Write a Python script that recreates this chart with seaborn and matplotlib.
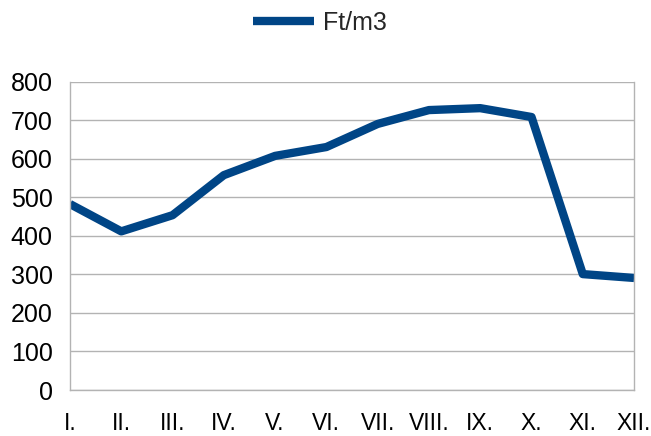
import pandas as pd
import matplotlib.pyplot as plt
import seaborn as sns

# Monthly values
months = ['I.', 'II.', 'III.', 'IV.', 'V.', 'VI.', 'VII.', 'VIII.', 'IX.', 'X.', 'XI.', 'XII.']
ft_m3 = [483, 412, 454, 558, 608, 631, 691, 727, 732, 709, 301, 291]

df = pd.DataFrame({'honap': months, 'Ft/m3': ft_m3})

sns.set_style('white')
plt.rcParams['font.family'] = ['Liberation Sans', 'DejaVu Sans']

fig = plt.figure(figsize=(6.51, 4.36), dpi=100)
ax = fig.add_axes([0.1075, 0.1055, 0.8665, 0.7065])

sns.lineplot(data=df, x='honap', y='Ft/m3', color='#004586', linewidth=6,
             solid_capstyle='butt', label='Ft/m3', ax=ax, legend=False)

ax.set_xlim(0, len(months) - 1)
ax.set_ylim(0, 800)
ax.set_yticks(range(0, 801, 100))
ax.set_xlabel('')
ax.set_ylabel('')

ax.yaxis.grid(True, color='#b3b3b3', linewidth=1)
ax.xaxis.grid(False)
for side in ['left', 'right', 'bottom', 'top']:
    ax.spines[side].set_color('#b3b3b3')
    ax.spines[side].set_linewidth(1)
ax.spines['top'].set_visible(False)

ax.tick_params(axis='both', labelsize=18, colors='#b3b3b3', labelcolor='black',
               direction='out', width=1)
ax.tick_params(axis='x', length=7.5, pad=8, labelsize=16.5)
ax.tick_params(axis='y', length=8.5, pad=4)

handles, labels = ax.get_legend_handles_labels()
fig.legend(handles, labels, loc='center', bbox_to_anchor=(0.492, 0.947),
           frameon=False, fontsize=18, handlelength=2.45, handletextpad=0.36,
           borderpad=0, borderaxespad=0)

fig.savefig('out.png', dpi=100)
